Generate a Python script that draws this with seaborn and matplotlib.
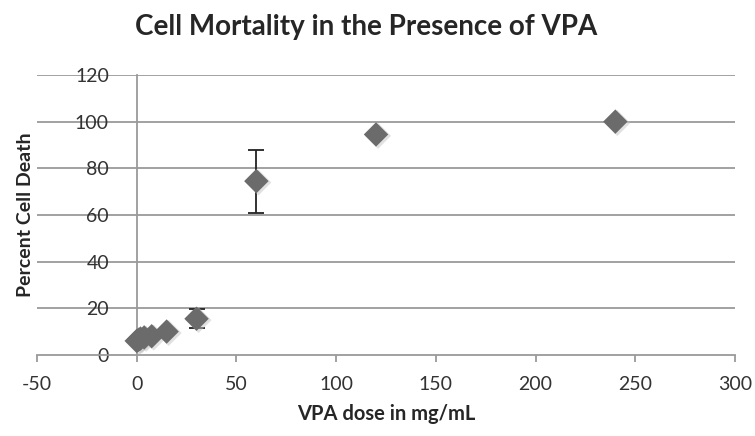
import matplotlib
matplotlib.use("Agg")
import matplotlib.pyplot as plt
import numpy as np
import pandas as pd
import seaborn as sns

# dawki VPA i odczytane wartosci
dose = [0, 0.94, 1.875, 3.75, 7.5, 15, 30, 60, 120, 240]
death = [6, 6.5, 7, 7.5, 8, 10, 15.5, 74.5, 94.5, 100]
err = [0, 0, 0, 0, 0, 0, 4, 13.5, 0, 0]

xticks = [-50, 0, 50, 100, 150, 200, 250, 300]
yticks = [0, 20, 40, 60, 80, 100, 120]

df = pd.DataFrame({"dose": dose, "death": death, "err": err})

sns.set_style("white")
plt.rcParams['font.family'] = ['Lato', 'DejaVu Sans']
plt.rcParams['axes.unicode_minus'] = False

fig = plt.figure(figsize=(7.55, 4.36), dpi=100)
ax = fig.add_axes([0.049, 0.186, 0.9245, 0.642])

# linie siatki
for y in yticks[1:]:
    ax.axhline(y, color="#9a9a9a", lw=1.3, zorder=0)

# slupki bledow
e = df[df["err"] > 0]
ax.errorbar(e["dose"], e["death"], yerr=e["err"], fmt="none", ecolor="#222222",
            elinewidth=1.3, capsize=6, capthick=1.3, zorder=2)

# cien pod markerami
ax.scatter(df["dose"] + 1, df["death"] - 0.6, marker="D", s=175, color="#c4c4c4",
           edgecolor="none", alpha=0.5, zorder=2, clip_on=False)
sns.scatterplot(data=df, x="dose", y="death", marker="D", s=155, color="#6b6b6b",
                edgecolor="none", zorder=3, ax=ax, clip_on=False)

ax.set_xlim(-50, 300)
ax.set_ylim(0, 120)
ax.set_xticks(xticks)
ax.set_yticks(yticks)

for s in ["top", "right"]:
    ax.spines[s].set_visible(False)
ax.spines["left"].set_position(("data", 0))
ax.spines["bottom"].set_position(("data", 0))
ax.spines["left"].set_color("#9a9a9a")
ax.spines["bottom"].set_color("#9a9a9a")
ax.spines["left"].set_linewidth(1.3)
ax.spines["bottom"].set_linewidth(1.3)

ax.tick_params(axis="y", length=0, pad=20, labelsize=14, colors="#333333")
ax.tick_params(axis="x", length=5, width=1.3, color="#9a9a9a", direction="out",
               pad=10, labelsize=14, labelcolor="#333333")
ax.tick_params(axis="x", bottom=True)

ax.set_xlabel("VPA dose in mg/mL", fontsize=14.5, fontweight="bold", labelpad=8)
ax.set_ylabel("Percent Cell Death", fontsize=14, fontweight="bold")
ax.yaxis.set_label_coords(-0.005, 0.5)

fig.text(0.485, 0.938, "Cell Mortality in the Presence of VPA", ha="center", va="center",
         fontsize=20, fontweight="bold")

fig.savefig("out.png", dpi=100)
